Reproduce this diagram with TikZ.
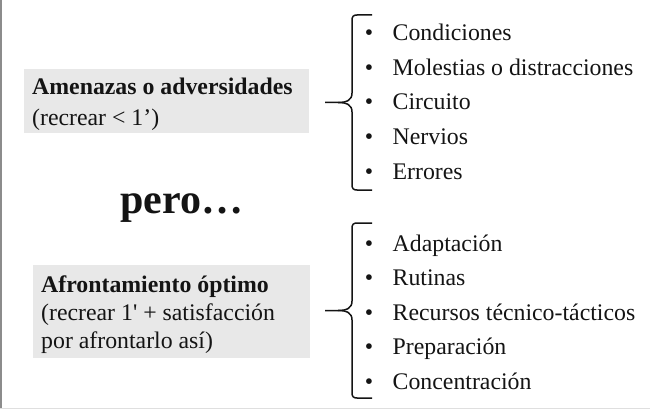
\documentclass[tikz,border=0pt]{standalone}
\usepackage{fontspec}
\setmainfont{Liberation Serif}[Ligatures=TeXOff]
\definecolor{boxgrey}{HTML}{E8E8E8}
\definecolor{inkc}{HTML}{141414}
\begin{document}
\begin{tikzpicture}[x=1pt,y=-1pt,
  greybox/.style={fill=boxgrey,draw=none,inner sep=0pt,anchor=north west},
  title/.style={anchor=base west,inner sep=0pt,text=inkc,font=\fontsize{23.8}{28}\selectfont\bfseries},
  plain/.style={anchor=base west,inner sep=0pt,text=inkc,font=\fontsize{23.8}{28}\selectfont},
  item/.style={anchor=base west,inner sep=0pt,text=inkc,font=\fontsize{23.8}{28}\selectfont},
  bul/.style={anchor=base,inner sep=0pt,text=inkc,font=\fontsize{23.8}{28}\selectfont},
  bracestyle/.style={draw=inkc,line width=1.5pt},
  bracepic/.pic={
    \draw[bracestyle] (20,0) -- (5,0) .. controls (1.5,0) and (0,1.5) .. (0,5) -- (0,78)
       .. controls (0,85) and (-5,87.5) .. (-14,87.5) -- (-27,87.5);
    \draw[bracestyle] (-14,87.5) .. controls (-5,87.5) and (0,90) .. (0,97) -- (0,170)
       .. controls (0,173.5) and (1.5,175) .. (5,175) -- (20,175);
  }]
\useasboundingbox (0,0) rectangle (650,409);
\fill[white] (0,0) rectangle (650,409);
% frame lines
\draw[draw=gray!90,line width=1.5pt] (0.75,0) -- (0.75,409);
\draw[draw=gray!25,line width=1pt] (0,408.5) -- (650,408.5);

% left boxes
\node[greybox,minimum width=285pt,minimum height=64pt] (boxA) at (24,69) {};
\node[title] (tA1) at (32,94.5) {Amenazas o adversidades};
\node[plain] (tA2) at (32,125.5) {(recrear < 1’)};

\node[greybox,minimum width=277pt,minimum height=93pt] (boxB) at (33,265) {};
\node[title] (tB1) at (41,292) {Afrontamiento óptimo};
\node[plain] (tB2) at (41,320) {(recrear 1' + satisfacción};
\node[plain] (tB3) at (41,348) {por afrontarlo así)};

\node[anchor=base west,inner sep=0pt,text=inkc,font=\fontsize{42}{48}\selectfont\bfseries] (pero) at (120,213) {pero…};

% braces
\pic (braceA) at (352,15) {bracepic};
\pic (braceB) at (352,223) {bracepic};

% top list
\foreach \y/\t [count=\i] in {41/Condiciones,75.5/Molestias o distracciones,110/Circuito,144.5/Nervios,179/Errores}{
  \node[bul] (ba\i) at (369,\y) {•};
  \node[item] (ia\i) at (392.5,\y) {\t};
}
% bottom list
\foreach \y/\t [count=\i] in {251/Adaptación,285.5/Rutinas,320/Recursos técnico-tácticos,354.5/Preparación,389/Concentración}{
  \node[bul] (bb\i) at (369,\y) {•};
  \node[item] (ib\i) at (392.5,\y) {\t};
}
\end{tikzpicture}
\end{document}
